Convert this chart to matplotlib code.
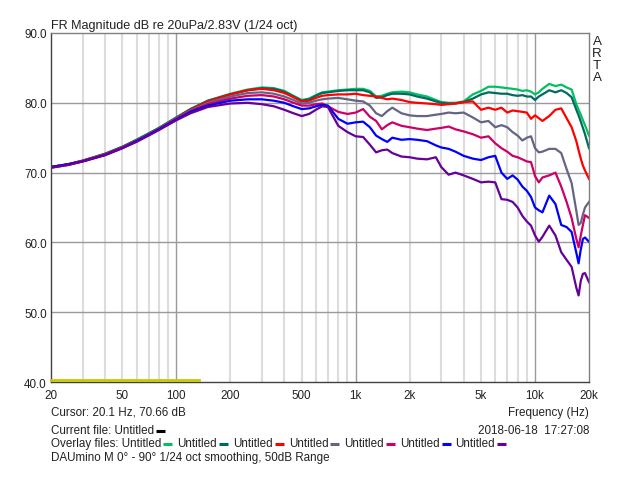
import matplotlib
matplotlib.use("Agg")
import matplotlib.pyplot as plt
from matplotlib.lines import Line2D

plt.rcParams['font.family'] = ['Liberation Sans', 'DejaVu Sans']

# ---------------- data ----------------
freqs = [20, 25, 30, 40, 50, 60, 70, 80, 100, 120, 150,
         200, 250, 300, 350, 400, 450, 500, 550, 600, 650, 700, 800, 900, 1000,
         1100, 1200, 1300, 1400, 1500, 1600, 1800, 2000, 2200, 2500, 2800, 3000, 3300, 3600, 4000,
         4500, 5000, 5500, 6000, 6500, 7000, 7500, 8000, 8500, 9000, 9500, 10000,
         10500, 11000, 12000, 13000, 14000, 15000, 16000, 17000, 17500, 18000, 18500, 19000, 20000]

green = [70.8, 71.2, 71.7, 72.7, 73.7, 74.7, 75.6, 76.4, 77.9, 79.1, 80.3,
         81.3, 81.9, 82.2, 82.1, 81.7, 81.0, 80.4, 80.6, 81.1, 81.5, 81.6, 81.8, 81.9, 82.0,
         82.0, 81.7, 80.9, 81.0, 81.3, 81.5, 81.6, 81.5, 81.2, 80.9, 80.4, 80.1, 80.0, 80.0, 80.2,
         81.2, 81.7, 82.3, 82.3, 82.2, 82.1, 82.0, 81.9, 81.7, 81.8, 81.6, 81.2,
         81.5, 82.0, 82.7, 82.4, 82.6, 82.2, 81.9, 79.8, 79.0, 78.3, 77.5, 76.8, 75.3]
teal = [70.8, 71.2, 71.7, 72.7, 73.7, 74.7, 75.6, 76.4, 77.9, 79.1, 80.3,
        81.2, 81.8, 82.1, 82.0, 81.6, 80.9, 80.3, 80.5, 81.0, 81.4, 81.5, 81.7, 81.8, 81.8,
        81.8, 81.5, 80.7, 80.8, 81.1, 81.3, 81.3, 81.2, 80.9, 80.6, 80.2, 80.0, 79.9, 79.9, 80.1,
        80.6, 81.2, 81.5, 81.4, 81.3, 81.3, 81.1, 81.0, 81.1, 80.9, 80.9, 80.4,
        80.9, 81.2, 81.8, 81.5, 81.8, 81.4, 80.8, 79.0, 78.2, 77.3, 76.4, 75.5, 73.5]
red = [70.7, 71.1, 71.6, 72.6, 73.6, 74.6, 75.5, 76.3, 77.8, 79.0, 80.2,
       81.2, 81.8, 82.0, 81.8, 81.4, 80.8, 80.2, 80.3, 80.7, 81.0, 81.1, 81.2, 81.2, 81.3,
       81.1, 81.0, 80.9, 80.7, 80.5, 80.6, 80.4, 80.1, 80.0, 79.9, 79.8, 79.7, 79.8, 79.9, 80.1,
       80.2, 79.0, 79.3, 79.0, 79.3, 78.6, 78.9, 78.8, 78.7, 78.6, 77.7, 78.2,
       77.8, 77.4, 78.1, 79.0, 79.2, 77.8, 76.5, 74.5, 73.2, 72.0, 71.0, 70.3, 69.1]
gray = [70.8, 71.2, 71.7, 72.6, 73.6, 74.6, 75.5, 76.3, 77.8, 78.9, 80.0,
        80.9, 81.4, 81.5, 81.3, 80.9, 80.4, 79.9, 80.0, 80.3, 80.5, 80.6, 80.7, 80.5, 80.3,
        80.2, 79.6, 78.5, 78.1, 78.8, 79.3, 78.5, 78.2, 78.1, 78.1, 78.3, 78.4, 78.6, 78.5, 78.6,
        77.9, 77.2, 77.4, 76.5, 76.8, 76.5, 75.8, 75.3, 74.6, 75.0, 75.2, 73.5,
        72.9, 73.0, 73.4, 73.4, 72.8, 70.5, 68.5, 64.5, 62.5, 62.8, 64.0, 65.0, 65.8]
crimson = [70.8, 71.2, 71.7, 72.6, 73.6, 74.5, 75.4, 76.2, 77.7, 78.8, 79.8,
           80.6, 81.0, 81.1, 80.9, 80.5, 80.0, 79.6, 79.6, 79.8, 79.9, 79.5, 78.7, 78.4, 78.6,
           79.1, 78.0, 77.4, 76.2, 76.8, 77.2, 76.7, 76.5, 76.3, 76.1, 76.3, 76.4, 76.6, 76.2, 75.9,
           75.5, 75.0, 75.2, 74.2, 73.5, 73.0, 72.4, 72.2, 71.9, 71.6, 71.5, 69.5,
           68.6, 69.3, 69.6, 70.0, 68.0, 65.8, 63.5, 60.5, 59.3, 61.0, 62.5, 63.9, 63.5]
blue = [70.8, 71.2, 71.6, 72.5, 73.5, 74.5, 75.4, 76.2, 77.6, 78.7, 79.6,
        80.3, 80.5, 80.5, 80.3, 80.0, 79.5, 79.1, 79.2, 79.5, 79.7, 79.6, 77.7, 77.0, 77.2,
        77.3, 76.5, 75.3, 74.8, 74.4, 75.0, 74.7, 74.8, 74.7, 74.5, 73.9, 73.6, 73.4, 73.0, 72.4,
        72.0, 71.8, 72.2, 72.4, 70.0, 69.1, 69.6, 69.0, 68.0, 67.4, 66.5, 65.0,
        64.6, 64.3, 66.7, 65.5, 62.5, 62.2, 61.5, 58.5, 57.0, 59.0, 60.5, 60.7, 60.1]
purple = [70.7, 71.1, 71.6, 72.5, 73.5, 74.4, 75.3, 76.1, 77.5, 78.5, 79.4,
          79.9, 80.0, 79.8, 79.5, 79.0, 78.5, 78.1, 78.4, 79.0, 79.5, 79.4, 76.7, 75.8, 75.2,
          75.1, 74.0, 72.9, 73.2, 73.3, 72.8, 72.3, 72.2, 72.0, 71.9, 72.2, 70.8, 69.7, 70.0, 69.6,
          69.1, 68.6, 68.7, 68.6, 66.2, 66.1, 65.8, 65.0, 63.8, 63.0, 62.4, 61.0,
          60.1, 60.8, 62.4, 61.0, 58.6, 57.5, 56.5, 53.5, 52.4, 54.5, 55.5, 55.6, 54.3]

series = [green, teal, red, gray, crimson, blue, purple]
series_colors = ['#00c060', '#006a60', '#ff0000', '#646484', '#cc0066', '#0000ff', '#660099']

marker_freqs = [20, 133]
marker_level = [40.35, 40.35]

xtick_vals = [20, 50, 100, 200, 500, 1000, 2000, 5000, 10000, 20000]
xtick_labels = ['20', '50', '100', '200', '500', '1k', '2k', '5k', '10k', '20k']
ytick_vals = [40, 50, 60, 70, 80, 90]
ytick_labels = ['40.0', '50.0', '60.0', '70.0', '80.0', '90.0']
major_grid = [100, 1000, 10000]
minor_grid = [30, 40, 50, 60, 70, 80, 90, 200, 300, 400, 500, 600, 700, 800, 900,
              2000, 3000, 4000, 5000, 6000, 7000, 8000, 9000]

# ---------------- figure ----------------
W, H = 640, 481
fig = plt.figure(figsize=(W / 100, H / 100), dpi=100)
ax = fig.add_axes([51 / W, (H - 383) / H, 538 / W, 349 / H])
ax.set_xscale('log')
ax.set_xlim(20, 20000)
ax.set_ylim(40, 90)

for f in minor_grid:
    ax.axvline(f, color='#dcdcdc', lw=1.5, zorder=0)
for f in major_grid:
    ax.axvline(f, color='#9a9a9a', lw=1.0, zorder=0.5)
for v in ytick_vals[1:-1]:
    ax.axhline(v, color='#9a9a9a', lw=1.0, zorder=0.5)

ax.minorticks_off()
ax.set_xticks(xtick_vals)
ax.set_xticklabels(xtick_labels)
ax.set_yticks(ytick_vals)
ax.set_yticklabels(ytick_labels)
ax.tick_params(length=0, labelsize=8.4, colors='#222222')
ax.tick_params(axis='x', pad=5)
ax.tick_params(axis='y', pad=3)

for s in ['left', 'bottom']:
    ax.spines[s].set_color('#404040')
for s in ['top', 'right']:
    ax.spines[s].set_color('#808080')
for s in ax.spines.values():
    s.set_linewidth(1.0)

for vals, c in zip(series, series_colors):
    ax.plot(freqs, vals, color=c, lw=1.6, solid_joinstyle='round', zorder=2)

ax.plot(marker_freqs, marker_level, color='#c8c800', lw=2.0, zorder=3, clip_on=False)


def P(x, y):
    return x / W, 1 - y / H


fs = 8.4
tc = '#222222'
fig.text(*P(51, 26), 'FR Magnitude dB re 20uPa/2.83V (1/24 oct)', fontsize=9.1, color=tc,
         ha='left', va='center')
fig.text(*P(597, 60), 'A\nR\nT\nA', fontsize=9.6, color=tc, ha='center', va='center',
         linespacing=1.0)
fig.text(*P(51, 413), 'Cursor: 20.1 Hz, 70.66 dB', fontsize=fs, color=tc, ha='left', va='center')
fig.text(*P(589, 413), 'Frequency (Hz)', fontsize=fs, color=tc, ha='right', va='center')
fig.text(*P(589, 431), '2018-06-18  17:27:08', fontsize=fs, color=tc, ha='right', va='center')
fig.text(*P(51, 458), 'DAUmino M 0\u00b0 - 90\u00b0 1/24 oct smoothing, 50dB Range', fontsize=fs,
         color=tc, ha='left', va='center')

renderer = fig.canvas.get_renderer()


def legend_row(y, parts):
    x = 51
    for label, col in parts:
        t = fig.text(*P(x, y), label, fontsize=fs, color=tc, ha='left', va='center')
        ext = t.get_window_extent(renderer)
        x0 = ext.x1 + 2
        x1 = x0 + 9
        fig.add_artist(Line2D([x0 / W, x1 / W], [1 - (y + 0.5) / H] * 2, color=col, lw=2.2,
                              solid_capstyle='butt', transform=fig.transFigure))
        x = x1 + 5


legend_row(431, [('Current file: Untitled', '#000000')])
legend_row(444, [('Overlay files: Untitled', series_colors[0])] +
           [('Untitled', c) for c in series_colors[1:]])

fig.savefig('out.png', dpi=100)
